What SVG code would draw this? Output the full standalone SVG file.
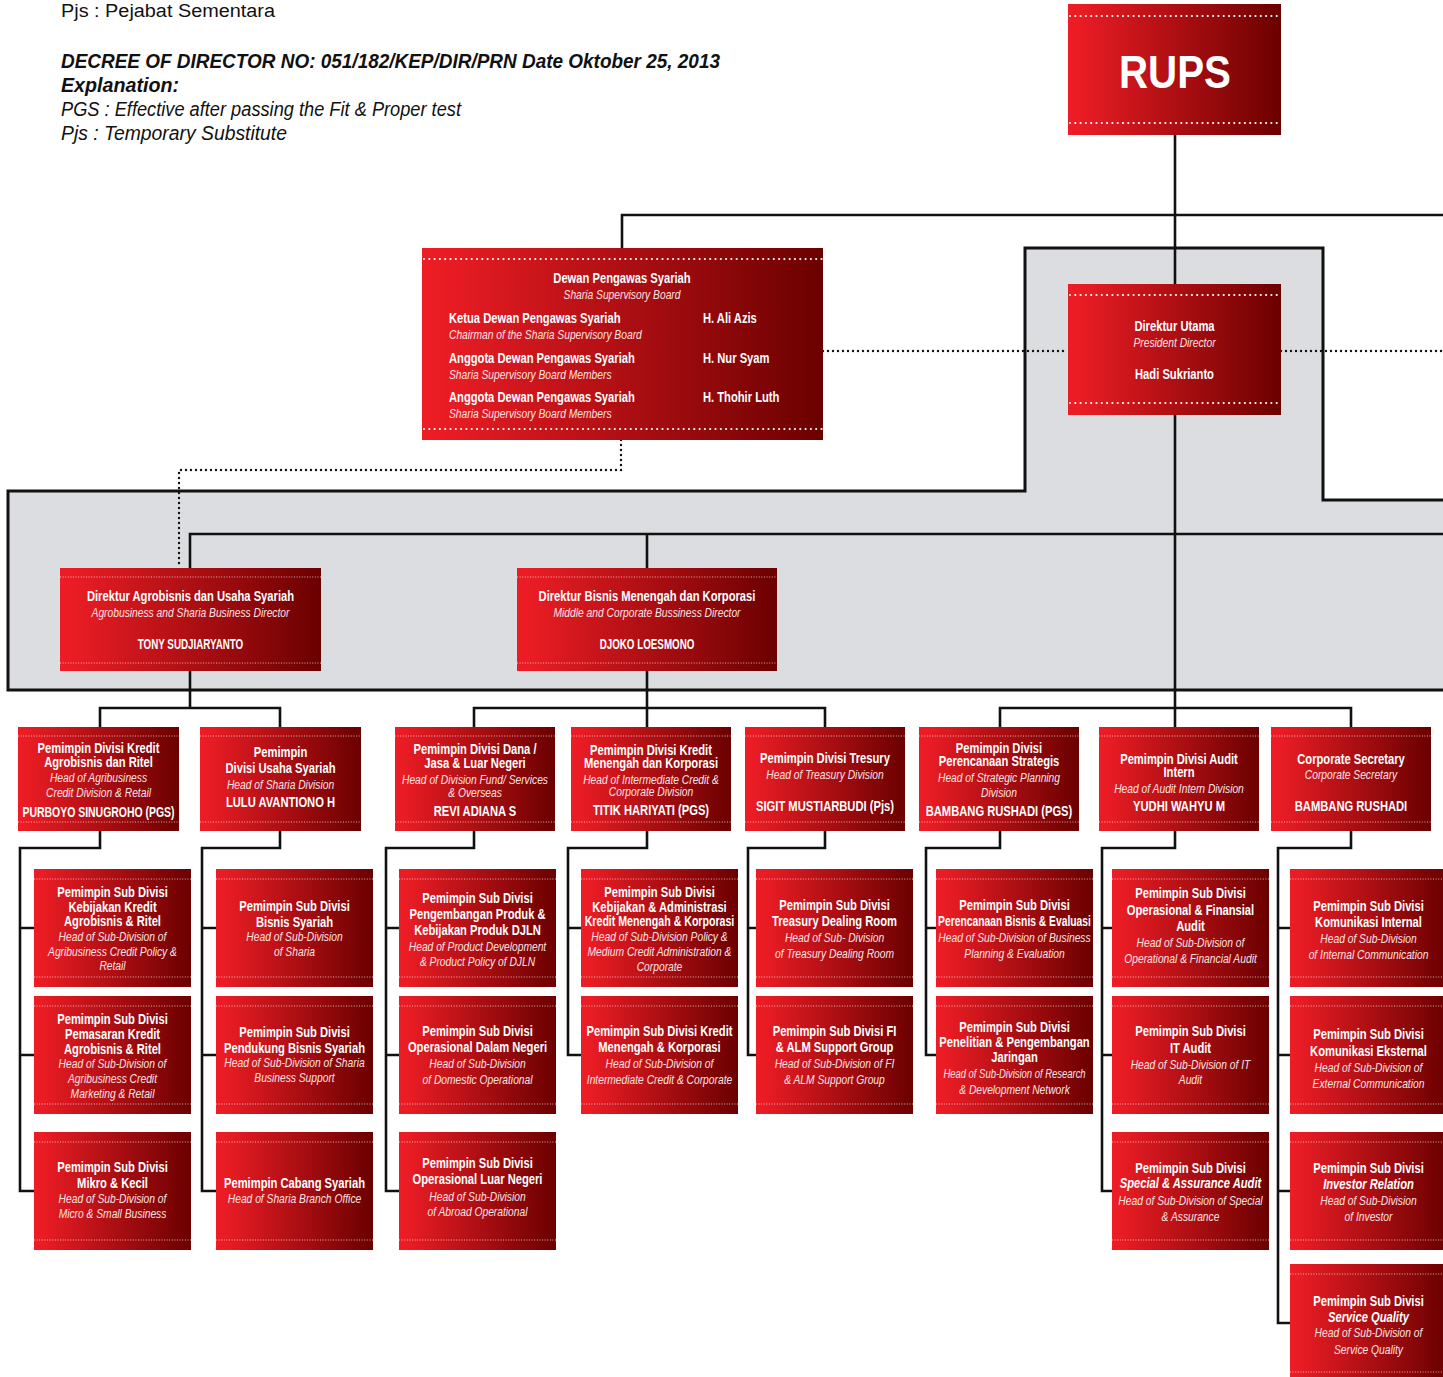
<svg xmlns="http://www.w3.org/2000/svg" width="1443" height="1377" viewBox="0 0 1443 1377">
<defs>
<linearGradient id="rg" x1="0" y1="0" x2="1" y2="0">
<stop offset="0" stop-color="#ee1c25"/><stop offset="0.06" stop-color="#e91c24"/><stop offset="1" stop-color="#6b0000"/>
</linearGradient>
<style>
.box{fill:url(#rg)}
.dl{fill:none;stroke:#fff;stroke-width:1;stroke-dasharray:1 1.6;opacity:.7}
.dL{fill:none;stroke:#fff;stroke-width:2.2;stroke-dasharray:0 5.3;stroke-linecap:round}
.ln{fill:none;stroke:#111;stroke-width:2.6}
.dt{fill:none;stroke:#111;stroke-width:2.4;stroke-dasharray:0 5;stroke-linecap:round}
.gr{fill:#dcdde0;stroke:#111;stroke-width:3}
text{font-family:"Liberation Sans",Arial,sans-serif;font-size:13px;fill:#fff}
.b{font-weight:700;font-size:14px;text-anchor:middle;transform:scaleX(.8)}
.i{font-style:italic;text-anchor:middle;transform:scaleX(.79);fill:#fbe3e3}
.bi{font-style:italic}
.n{transform:scaleX(.7)}
.l{text-anchor:start}
.h{fill:#111;font-size:20px}
.t{font-size:18px}
.hb{font-weight:700;font-style:italic}
.hi{font-style:italic}
.big{font-size:46px;font-weight:700;text-anchor:middle}
</style>
</defs>
<rect width="1443" height="1377" fill="#fff"/>

<g id="legend">
<text class="h t" x="61" y="17" textLength="214" lengthAdjust="spacingAndGlyphs">Pjs : Pejabat Sementara</text>
<text class="h hb" x="61" y="68" textLength="659" lengthAdjust="spacingAndGlyphs">DECREE OF DIRECTOR NO: 051/182/KEP/DIR/PRN Date Oktober 25, 2013</text>
<text class="h hb" x="61" y="92" textLength="118" lengthAdjust="spacingAndGlyphs">Explanation:</text>
<text class="h hi" x="61" y="116" textLength="400" lengthAdjust="spacingAndGlyphs">PGS : Effective after passing the Fit &amp; Proper test</text>
<text class="h hi" x="61" y="140" textLength="226" lengthAdjust="spacingAndGlyphs">Pjs : Temporary Substitute</text>
</g>

<polygon id="area" class="gr" points="8,491 1025,491 1025,248 1323,248 1323,500 1450,500 1450,690 8,690"/>

<g id="connectors">
<path class="ln" d="M1175 134V284M622 248V215H1446M1175 414V727M1000 727V708H1351V727M190 568V534H1446M647 534V568M190 671V708M100 727V708H280V727M647 671V727M474 727V708H825V727"/>
<path class="ln" d="M100 831V848H20V1191H34M20 928H34M20 1055H34"/>
<path class="ln" d="M280 831V848H202V1191H216M202 928H216M202 1055H216"/>
<path class="ln" d="M474 831V848H386V1191H399M386 928H399M386 1055H399"/>
<path class="ln" d="M647 831V848H568V1055H581M568 928H581"/>
<path class="ln" d="M825 831V848H748V1055H756M748 928H756"/>
<path class="ln" d="M1000 831V848H926V1055H936M926 928H936"/>
<path class="ln" d="M1175 831V848H1102V1191H1112M1102 928H1112M1102 1055H1112"/>
<path class="ln" d="M1351 831V848H1278V1323H1290M1278 928H1290M1278 1055H1290M1278 1191H1290"/>
<path class="dt" d="M823 351H1068M1281 351H1446M621 440V470H179V568"/>
</g>

<g id="rups">
<rect class="box" x="1068" y="4" width="213" height="131"/>
<path class="dL" d="M1070 16H1280M1070 123H1280"/>
<text class="big" x="1175" y="88" textLength="112" lengthAdjust="spacingAndGlyphs">RUPS</text>
</g>

<g id="dewan">
<rect class="box" x="422" y="248" width="401" height="192"/>
<path class="dL" d="M424 259H822M424 429H822"/>
<g transform="translate(622 0)">
<text class="b" y="283">Dewan Pengawas Syariah</text>
<text class="i" y="299">Sharia Supervisory Board</text>
</g>
<g transform="translate(449 0)">
<text class="b l" y="323">Ketua Dewan Pengawas Syariah</text>
<text class="i l" y="339">Chairman of the Sharia Supervisory Board</text>
<text class="b l" y="363">Anggota Dewan Pengawas Syariah</text>
<text class="i l" y="379">Sharia Supervisory Board Members</text>
<text class="b l" y="402">Anggota Dewan Pengawas Syariah</text>
<text class="i l" y="418">Sharia Supervisory Board Members</text>
</g>
<g transform="translate(703 0)">
<text class="b l" y="323">H. Ali Azis</text>
<text class="b l" y="363">H. Nur Syam</text>
<text class="b l" y="402">H. Thohir Luth</text>
</g>
</g>

<g id="dirut">
<rect class="box" x="1068" y="284" width="213" height="131"/>
<path class="dL" d="M1070 295H1280M1070 403H1280"/>
<g transform="translate(1174.5 0)">
<text class="b" y="331">Direktur Utama</text>
<text class="i" y="347">President Director</text>
<text class="b" y="379">Hadi Sukrianto</text>
</g>
</g>

<g id="dir-agro">
<rect class="box" x="60" y="568" width="261" height="103"/>
<path class="dl" d="M60 577H321M60 663H321"/>
<g transform="translate(190.5 0)">
<text class="b" y="601">Direktur Agrobisnis dan Usaha Syariah</text>
<text class="i" y="617">Agrobusiness and Sharia Business Director</text>
<text class="b n" y="649">TONY SUDJIARYANTO</text>
</g>
</g>

<g id="dir-bmk">
<rect class="box" x="517" y="568" width="260" height="103"/>
<path class="dl" d="M517 577H777M517 663H777"/>
<g transform="translate(647 0)">
<text class="b" y="601">Direktur Bisnis  Menengah dan Korporasi</text>
<text class="i" y="617">Middle and Corporate Bussiness Director</text>
<text class="b n" y="649">DJOKO LOESMONO</text>
</g>
</g>

<g id="div-agro">
<rect class="box" x="18" y="727" width="161" height="104"/>
<path class="dl" d="M18 736H179M18 822H179"/>
<g transform="translate(98.5 0)">
<text class="b" y="753">Pemimpin  Divisi Kredit</text>
<text class="b" y="767">Agrobisnis dan Ritel</text>
<text class="i" y="782">Head of Agribusiness</text>
<text class="i" y="797">Credit Division &amp; Retail</text>
<text class="b" y="817" textLength="190" lengthAdjust="spacingAndGlyphs">PURBOYO SINUGROHO (PGS)</text>
</g>
</g>

<g id="div-syariah">
<rect class="box" x="200" y="727" width="161" height="104"/>
<path class="dl" d="M200 736H361M200 822H361"/>
<g transform="translate(280.5 0)">
<text class="b" y="757">Pemimpin</text>
<text class="b" y="773">Divisi Usaha Syariah</text>
<text class="i" y="789">Head of Sharia Division</text>
<text class="b" y="807">LULU AVANTIONO  H</text>
</g>
</g>

<g id="div-dana">
<rect class="box" x="395" y="727" width="160" height="104"/>
<path class="dl" d="M395 736H555M395 822H555"/>
<g transform="translate(475 0)">
<text class="b" y="754">Pemimpin Divisi Dana /</text>
<text class="b" y="768">Jasa &amp; Luar Negeri</text>
<text class="i" y="784">Head of Division Fund/ Services</text>
<text class="i" y="797">&amp; Overseas</text>
<text class="b" y="816">REVI ADIANA S</text>
</g>
</g>

<g id="div-kmk">
<rect class="box" x="571" y="727" width="160" height="104"/>
<path class="dl" d="M571 736H731M571 822H731"/>
<g transform="translate(651 0)">
<text class="b" y="755">Pemimpin Divisi Kredit</text>
<text class="b" y="768">Menengah dan Korporasi</text>
<text class="i" y="784">Head of Intermediate Credit &amp;</text>
<text class="i" y="796">Corporate Division</text>
<text class="b" y="815">TITIK HARIYATI (PGS)</text>
</g>
</g>

<g id="div-tresury">
<rect class="box" x="745" y="727" width="160" height="104"/>
<path class="dl" d="M745 736H905M745 822H905"/>
<g transform="translate(825 0)">
<text class="b" y="763">Pemimpin Divisi Tresury</text>
<text class="i" y="779">Head of Treasury Division</text>
<text class="b" y="811">SIGIT MUSTIARBUDI (Pjs)</text>
</g>
</g>

<g id="div-strategis">
<rect class="box" x="919" y="727" width="160" height="104"/>
<path class="dl" d="M919 736H1079M919 822H1079"/>
<g transform="translate(999 0)">
<text class="b" y="753">Pemimpin Divisi</text>
<text class="b" y="766">Perencanaan Strategis</text>
<text class="i" y="782">Head of Strategic Planning</text>
<text class="i" y="797">Division</text>
<text class="b" y="816">BAMBANG RUSHADI (PGS)</text>
</g>
</g>

<g id="div-audit">
<rect class="box" x="1099" y="727" width="160" height="104"/>
<path class="dl" d="M1099 736H1259M1099 822H1259"/>
<g transform="translate(1179 0)">
<text class="b" y="764">Pemimpin Divisi Audit</text>
<text class="b" y="777">Intern</text>
<text class="i" y="793">Head of Audit Intern Division</text>
<text class="b" y="811">YUDHI WAHYU M</text>
</g>
</g>

<g id="corsec">
<rect class="box" x="1271" y="727" width="160" height="104"/>
<path class="dl" d="M1271 736H1431M1271 822H1431"/>
<g transform="translate(1351 0)">
<text class="b" y="764">Corporate Secretary</text>
<text class="i" y="779">Corporate Secretary</text>
<text class="b" y="811">BAMBANG RUSHADI</text>
</g>
</g>

<!-- column 1 -->
<g id="c1a">
<rect class="box" x="34" y="869" width="157" height="118"/>
<path class="dl" d="M34 879h157M34 977h157"/>
<g transform="translate(112.5 0)">
<text class="b" y="897">Pemimpin Sub Divisi</text>
<text class="b" y="912">Kebijakan Kredit</text>
<text class="b" y="926">Agrobisnis &amp; Ritel</text>
<text class="i" y="941">Head of Sub-Division of</text>
<text class="i" y="956">Agribusiness Credit Policy &amp;</text>
<text class="i" y="970">Retail</text>
</g>
</g>
<g id="c1b">
<rect class="box" x="34" y="996" width="157" height="118"/>
<path class="dl" d="M34 1006h157M34 1104h157"/>
<g transform="translate(112.5 0)">
<text class="b" y="1024">Pemimpin Sub Divisi</text>
<text class="b" y="1039">Pemasaran Kredit</text>
<text class="b" y="1054">Agrobisnis &amp; Ritel</text>
<text class="i" y="1068">Head of Sub-Division of</text>
<text class="i" y="1083">Agribusiness Credit</text>
<text class="i" y="1098">Marketing &amp; Retail</text>
</g>
</g>
<g id="c1c">
<rect class="box" x="34" y="1132" width="157" height="118"/>
<path class="dl" d="M34 1142h157M34 1240h157"/>
<g transform="translate(112.5 0)">
<text class="b" y="1172">Pemimpin Sub Divisi</text>
<text class="b" y="1188">Mikro &amp; Kecil</text>
<text class="i" y="1203">Head of Sub-Division of</text>
<text class="i" y="1218">Micro &amp; Small Business</text>
</g>
</g>

<!-- column 2 -->
<g id="c2a">
<rect class="box" x="216" y="869" width="157" height="118"/>
<path class="dl" d="M216 879h157M216 977h157"/>
<g transform="translate(294.5 0)">
<text class="b" y="911">Pemimpin Sub Divisi</text>
<text class="b" y="927">Bisnis Syariah</text>
<text class="i" y="941">Head of Sub-Division</text>
<text class="i" y="956">of Sharia</text>
</g>
</g>
<g id="c2b">
<rect class="box" x="216" y="996" width="157" height="118"/>
<path class="dl" d="M216 1006h157M216 1104h157"/>
<g transform="translate(294.5 0)">
<text class="b" y="1037">Pemimpin Sub Divisi</text>
<text class="b" y="1053">Pendukung Bisnis Syariah</text>
<text class="i" y="1067">Head of Sub-Division of Sharia</text>
<text class="i" y="1082">Business Support</text>
</g>
</g>
<g id="c2c">
<rect class="box" x="216" y="1132" width="157" height="118"/>
<path class="dl" d="M216 1142h157M216 1240h157"/>
<g transform="translate(294.5 0)">
<text class="b" y="1188">Pemimpin Cabang Syariah</text>
<text class="i" y="1203">Head of Sharia Branch Office</text>
</g>
</g>

<!-- column 3 -->
<g id="c3a">
<rect class="box" x="399" y="869" width="157" height="118"/>
<path class="dl" d="M399 879h157M399 977h157"/>
<g transform="translate(477.5 0)">
<text class="b" y="903">Pemimpin Sub Divisi</text>
<text class="b" y="919">Pengembangan Produk &amp;</text>
<text class="b" y="935">Kebijakan Produk DJLN</text>
<text class="i" y="951">Head of Product Development</text>
<text class="i" y="966">&amp; Product Policy of DJLN</text>
</g>
</g>
<g id="c3b">
<rect class="box" x="399" y="996" width="157" height="118"/>
<path class="dl" d="M399 1006h157M399 1104h157"/>
<g transform="translate(477.5 0)">
<text class="b" y="1036">Pemimpin Sub Divisi</text>
<text class="b" y="1052">Operasional Dalam Negeri</text>
<text class="i" y="1068">Head of Sub-Division</text>
<text class="i" y="1084">of Domestic Operational</text>
</g>
</g>
<g id="c3c">
<rect class="box" x="399" y="1132" width="157" height="118"/>
<path class="dl" d="M399 1142h157M399 1240h157"/>
<g transform="translate(477.5 0)">
<text class="b" y="1168">Pemimpin Sub Divisi</text>
<text class="b" y="1184">Operasional Luar Negeri</text>
<text class="i" y="1201">Head of Sub-Division</text>
<text class="i" y="1216">of Abroad Operational</text>
</g>
</g>

<!-- column 4 -->
<g id="c4a">
<rect class="box" x="581" y="869" width="157" height="118"/>
<path class="dl" d="M581 879h157M581 977h157"/>
<g transform="translate(659.5 0)">
<text class="b" y="897">Pemimpin Sub Divisi</text>
<text class="b" y="912">Kebijakan &amp; Administrasi</text>
<text class="b" y="926" textLength="187" lengthAdjust="spacingAndGlyphs">Kredit Menengah &amp; Korporasi</text>
<text class="i" y="941">Head of Sub-Division Policy &amp;</text>
<text class="i" y="956">Medium Credit Administration &amp;</text>
<text class="i" y="971">Corporate</text>
</g>
</g>
<g id="c4b">
<rect class="box" x="581" y="996" width="157" height="118"/>
<path class="dl" d="M581 1006h157M581 1104h157"/>
<g transform="translate(659.5 0)">
<text class="b" y="1036">Pemimpin Sub Divisi Kredit</text>
<text class="b" y="1052">Menengah &amp; Korporasi</text>
<text class="i" y="1068">Head of Sub-Division of</text>
<text class="i" y="1084">Intermediate Credit &amp; Corporate</text>
</g>
</g>

<!-- column 5 -->
<g id="c5a">
<rect class="box" x="756" y="869" width="157" height="118"/>
<path class="dl" d="M756 879h157M756 977h157"/>
<g transform="translate(834.5 0)">
<text class="b" y="910">Pemimpin Sub Divisi</text>
<text class="b" y="926">Treasury Dealing Room</text>
<text class="i" y="942">Head of Sub- Division</text>
<text class="i" y="958">of Treasury Dealing Room</text>
</g>
</g>
<g id="c5b">
<rect class="box" x="756" y="996" width="157" height="118"/>
<path class="dl" d="M756 1006h157M756 1104h157"/>
<g transform="translate(834.5 0)">
<text class="b" y="1036">Pemimpin Sub Divisi FI</text>
<text class="b" y="1052">&amp; ALM Support Group</text>
<text class="i" y="1068">Head of Sub-Division of FI</text>
<text class="i" y="1084">&amp; ALM Support Group</text>
</g>
</g>

<!-- column 6 -->
<g id="c6a">
<rect class="box" x="936" y="869" width="157" height="118"/>
<path class="dl" d="M936 879h157M936 977h157"/>
<g transform="translate(1014.5 0)">
<text class="b" y="910">Pemimpin Sub Divisi</text>
<text class="b" y="926" textLength="191" lengthAdjust="spacingAndGlyphs">Perencanaan Bisnis &amp; Evaluasi</text>
<text class="i" y="942">Head of Sub-Division of  Business</text>
<text class="i" y="958">Planning &amp; Evaluation</text>
</g>
</g>
<g id="c6b">
<rect class="box" x="936" y="996" width="157" height="118"/>
<path class="dl" d="M936 1006h157M936 1104h157"/>
<g transform="translate(1014.5 0)">
<text class="b" y="1032">Pemimpin Sub Divisi</text>
<text class="b" y="1047">Penelitian &amp; Pengembangan</text>
<text class="b" y="1062">Jaringan</text>
<text class="i" y="1078" textLength="180" lengthAdjust="spacingAndGlyphs">Head of Sub-Division of Research</text>
<text class="i" y="1094">&amp; Development Network</text>
</g>
</g>

<!-- column 7 -->
<g id="c7a">
<rect class="box" x="1112" y="869" width="157" height="118"/>
<path class="dl" d="M1112 879h157M1112 977h157"/>
<g transform="translate(1190.5 0)">
<text class="b" y="898">Pemimpin Sub Divisi</text>
<text class="b" y="915">Operasional &amp; Finansial</text>
<text class="b" y="931">Audit</text>
<text class="i" y="947">Head of Sub-Division of</text>
<text class="i" y="963">Operational &amp; Financial Audit</text>
</g>
</g>
<g id="c7b">
<rect class="box" x="1112" y="996" width="157" height="118"/>
<path class="dl" d="M1112 1006h157M1112 1104h157"/>
<g transform="translate(1190.5 0)">
<text class="b" y="1036">Pemimpin Sub Divisi</text>
<text class="b" y="1053">IT Audit</text>
<text class="i" y="1069">Head of Sub-Division of IT</text>
<text class="i" y="1084">Audit</text>
</g>
</g>
<g id="c7c">
<rect class="box" x="1112" y="1132" width="157" height="118"/>
<path class="dl" d="M1112 1142h157M1112 1240h157"/>
<g transform="translate(1190.5 0)">
<text class="b" y="1173">Pemimpin Sub Divisi</text>
<text class="b bi" y="1188">Special &amp; Assurance Audit</text>
<text class="i" y="1205">Head of Sub-Division of Special</text>
<text class="i" y="1221">&amp; Assurance</text>
</g>
</g>

<!-- column 8 -->
<g id="c8a">
<rect class="box" x="1290" y="869" width="157" height="118"/>
<path class="dl" d="M1290 879h157M1290 977h157"/>
<g transform="translate(1368.5 0)">
<text class="b" y="911">Pemimpin Sub Divisi</text>
<text class="b" y="927">Komunikasi Internal</text>
<text class="i" y="943">Head of Sub-Division</text>
<text class="i" y="959">of Internal Communication</text>
</g>
</g>
<g id="c8b">
<rect class="box" x="1290" y="996" width="157" height="118"/>
<path class="dl" d="M1290 1006h157M1290 1104h157"/>
<g transform="translate(1368.5 0)">
<text class="b" y="1039">Pemimpin Sub Divisi</text>
<text class="b" y="1056">Komunikasi Eksternal</text>
<text class="i" y="1072">Head of Sub-Division of</text>
<text class="i" y="1088">External Communication</text>
</g>
</g>
<g id="c8c">
<rect class="box" x="1290" y="1132" width="157" height="118"/>
<path class="dl" d="M1290 1142h157M1290 1240h157"/>
<g transform="translate(1368.5 0)">
<text class="b" y="1173">Pemimpin Sub Divisi</text>
<text class="b bi" y="1189">Investor Relation</text>
<text class="i" y="1205">Head of Sub-Division</text>
<text class="i" y="1221">of Investor</text>
</g>
</g>
<g id="c8d">
<rect class="box" x="1290" y="1264" width="157" height="118"/>
<path class="dl" d="M1290 1274h157M1290 1372h157"/>
<g transform="translate(1368.5 0)">
<text class="b" y="1306">Pemimpin Sub Divisi</text>
<text class="b bi" y="1322">Service Quality</text>
<text class="i" y="1337">Head of Sub-Division of</text>
<text class="i" y="1354">Service Quality</text>
</g>
</g>
</svg>
